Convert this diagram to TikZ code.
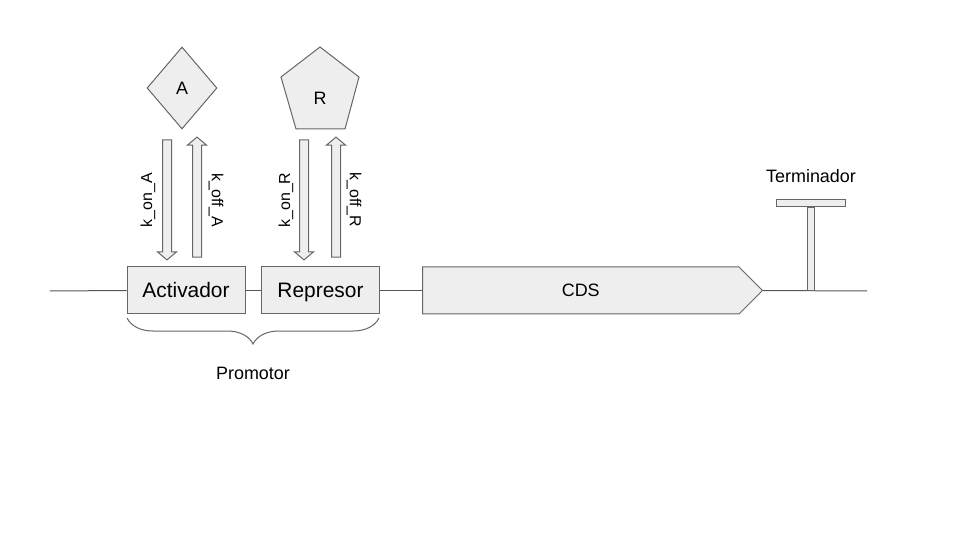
\documentclass[tikz,border=0pt]{standalone}
\usepackage{fontspec}
\setmainfont{Liberation Sans}
\usepackage{tikz}
\usetikzlibrary{
    positioning,
    calc,
    shapes.geometric,
    shapes.arrows,
    shapes.symbols,
    decorations.pathreplacing
}
\definecolor{partFill}{RGB}{238, 238, 238}
\definecolor{partLine}{RGB}{102, 102, 102}
\definecolor{dnaLine}{RGB}{85, 85, 85}

\tikzset{
    part/.style={draw=partLine, fill=partFill, line width=1bp, inner sep=0pt},
    partbox/.style={part, rectangle, minimum width=118bp, minimum height=47bp,
        text height=15bp, text depth=0pt, font=\fontsize{21}{25}\selectfont},
    rate/.style={part, single arrow, inner xsep=0pt, inner ysep=4bp,
        single arrow head extend=5bp, single arrow tip angle=100, minimum height=120bp},
    ratelabel/.style={font=\fontsize{16}{19}\selectfont},
    plain/.style={font=\fontsize{18}{22}\selectfont}
}

\begin{document}
\begin{tikzpicture}[x=1bp, y=-1bp]
        \useasboundingbox (0,0) rectangle (960,540);

        % promotor parts and CDS
        \node[partbox] (act) at (186,290.5) {Activador};
        \node[partbox] (rep) at (320.5,290.5) {Represor};
        \node[part, signal, signal to=east, signal pointer angle=90, anchor=west,
            minimum width=340bp, minimum height=47bp, plain] (cds) at (422,290.5) {CDS};

        % DNA line
        \coordinate (dnaL) at (50,291);
        \coordinate (dnaR) at (867,291);
        \draw[dnaLine, line width=1bp] (dnaL) -- (act.west);
        \draw[dnaLine, line width=1bp] (act.east) -- (rep.west);
        \draw[dnaLine, line width=1bp] (rep.east) -- (cds.west);
        \draw[dnaLine, line width=1bp] (cds.east) -- (dnaR);

        % terminator
        \node[part, minimum width=7bp, minimum height=83bp, anchor=south] (stem) at (810.5,291) {};
        \node[part, minimum width=69bp, minimum height=7bp, anchor=south] (bar) at (stem.north) {};
        \node[plain] (term) at (811,176) {Terminador};

        % activator and repressor
        \node[part, diamond, minimum width=70bp, minimum height=82bp, plain] (A) at (182,88) {A};
        \draw[part] (320,47) -- (359,77) -- (345,129) -- (296,129) -- (281,77) -- cycle;
        \node[plain] (R) at (320,98) {R};

        % binding rates
        \node[rate, rotate=-90] (onA) at (167,198) {};
        \node[rate, rotate=90] (offA) at (197,199) {};
        \node[rate, rotate=-90] (onR) at (304,198) {};
        \node[rate, rotate=90] (offR) at (336,199) {};
        \node[ratelabel, rotate=90] (lonA) at (148,200) {k\_on\_A};
        \node[ratelabel, rotate=-90] (loffA) at (216,200) {k\_off\_A};
        \node[ratelabel, rotate=90] (lonR) at (286,200) {k\_on\_R};
        \node[ratelabel, rotate=-90] (loffR) at (354,200) {k\_off\_R};

        % promotor brace
        \coordinate (bL) at (127,318);
        \coordinate (bR) at (379,318);
        \draw[partLine, line width=1bp, decorate, decoration={brace, amplitude=26bp, mirror}] (bL) -- (bR);
        \node[plain] (prom) at (253,373) {Promotor};
    \end{tikzpicture}
\end{document}
